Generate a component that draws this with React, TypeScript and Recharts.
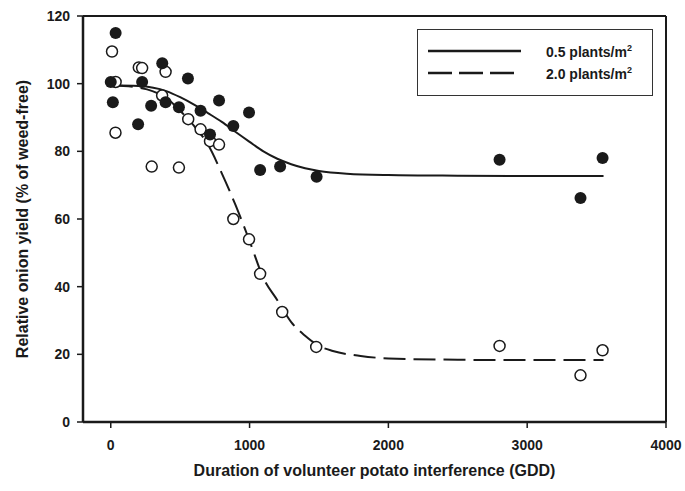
import {
  ComposedChart,
  Line,
  Scatter,
  XAxis,
  YAxis,
  Label,
  Legend,
  ReferenceLine,
} from "recharts";

// observed yield, 0.5 plants/m2 (filled circles)
const lowGdd = [0, 15, 35, 197, 226, 291, 371, 395, 491, 556, 647, 715, 780, 883, 996, 1076, 1220, 1483, 2801, 3384, 3543];
const lowYield = [100.5, 94.5, 115, 88, 100.5, 93.5, 106, 94.5, 93, 101.5, 92, 85, 95, 87.5, 91.5, 74.5, 75.5, 72.5, 77.5, 66.2, 78];

// observed yield, 2.0 plants/m2 (open circles)
const highGdd = [9, 35, 34, 202, 226, 295, 370, 395, 491, 558, 647, 715, 780, 883, 996, 1076, 1235, 1480, 2801, 3384, 3543];
const highYield = [109.5, 100.5, 85.5, 104.8, 104.6, 75.5, 96.5, 103.5, 75.2, 89.5, 86.5, 83, 82, 60, 54, 43.8, 32.5, 22.2, 22.5, 13.8, 21.2];

// fitted curves
const lowFitGdd = [0, 200, 400, 500, 600, 700, 800, 900, 1000, 1100, 1200, 1300, 1400, 1500, 1700, 2000, 2500, 3000, 3550];
const lowFitYield = [99.5, 99.3, 97.8, 96, 93.8, 91.3, 88.7, 85.7, 82.8, 80, 77.8, 76.2, 75, 74.2, 73.4, 73, 72.8, 72.7, 72.7];

const highFitGdd = [0, 200, 300, 400, 500, 600, 700, 800, 900, 1000, 1100, 1200, 1300, 1400, 1500, 1600, 1800, 2000, 2500, 3000, 3550];
const highFitYield = [99.5, 98.8, 97.8, 95.8, 92, 87.5, 82, 73.5, 64, 53.5, 42.5, 36, 29.5, 25.5, 22.5, 21, 19.5, 18.8, 18.4, 18.3, 18.3];

const xTicks = [0, 1000, 2000, 3000, 4000];
const yTicks = [0, 20, 40, 60, 80, 100, 120];

const zip = (xs: number[], ys: number[]) => xs.map((x, i) => ({ x, y: ys[i] }));

const lowPoints = zip(lowGdd, lowYield);
const highPoints = zip(highGdd, highYield);
const lowFit = zip(lowFitGdd, lowFitYield);
const highFit = zip(highFitGdd, highFitYield);

const ink = "#1a1a1a";
const font = "'Liberation Sans', Arial, sans-serif";
const tickStyle = { fill: ink, fontSize: 14, fontWeight: "bold", fontFamily: font };

const FilledDot = (p: any) => <circle cx={p.cx} cy={p.cy} r={6} fill={ink} />;
const OpenDot = (p: any) => (
  <circle cx={p.cx} cy={p.cy} r={5.5} fill="#fff" stroke={ink} strokeWidth={1.5} />
);

function LegendBox() {
  const rows = [
    { label: "0.5 plants/m", dash: undefined },
    { label: "2.0 plants/m", dash: "24 7" },
  ];
  return (
    <div
      style={{
        width: 236,
        height: 67,
        border: "1px solid #333",
        boxSizing: "border-box",
        background: "#fff",
        paddingTop: 10,
        fontFamily: font,
      }}
    >
      {rows.map((r) => (
        <div key={r.label} style={{ display: "flex", alignItems: "center", height: 22 }}>
          <svg width={118} height={10} style={{ marginLeft: 10 }}>
            <line x1={0} x2={93} y1={5} y2={5} stroke={ink} strokeWidth={2.5} strokeDasharray={r.dash} />
          </svg>
          <span style={{ fontSize: 14, fontWeight: "bold", color: ink }}>
            {r.label}
            <sup style={{ fontSize: 9 }}>2</sup>
          </span>
        </div>
      ))}
    </div>
  );
}

export default function App() {
  return (
    <div style={{ position: "fixed", left: 0, top: 0, background: "#fff" }}>
      <ComposedChart width={685} height={491} margin={{ top: 16, right: 19, bottom: 0, left: 0 }}>
        <XAxis
          type="number"
          dataKey="x"
          domain={[-200, 4000]}
          ticks={xTicks}
          allowDataOverflow
          height={69}
          tick={tickStyle}
          tickSize={6}
          tickMargin={12}
          axisLine={{ stroke: ink, strokeWidth: 2.5 }}
          tickLine={{ stroke: ink, strokeWidth: 1.5 }}
        >
          <Label
            value="Duration of volunteer potato interference (GDD)"
            position="insideBottom"
            offset={15}
            style={{ fill: ink, fontSize: 16, fontWeight: "bold", fontFamily: font }}
          />
        </XAxis>
        <YAxis
          type="number"
          dataKey="y"
          domain={[0, 120]}
          ticks={yTicks}
          width={83}
          tick={tickStyle}
          tickSize={6}
          tickMargin={7}
          axisLine={{ stroke: ink, strokeWidth: 2.5 }}
          tickLine={{ stroke: ink, strokeWidth: 1.5 }}
        >
          <Label
            content={() => (
              <text
                x={22}
                y={219}
                transform="rotate(-90 22 219)"
                textAnchor="middle"
                dominantBaseline="central"
                style={{ fill: ink, fontSize: 16, fontWeight: "bold", fontFamily: font }}
              >
                Relative onion yield (% of weed-free)
              </text>
            )}
          />
        </YAxis>
        <ReferenceLine y={120} stroke={ink} strokeWidth={2} ifOverflow="extendDomain" />
        <ReferenceLine x={4000} stroke={ink} strokeWidth={2} />
        <Scatter data={highPoints} shape={OpenDot} isAnimationActive={false} />
        <Line
          data={lowFit}
          dataKey="y"
          type="monotone"
          stroke={ink}
          strokeWidth={2}
          dot={false}
          activeDot={false}
          isAnimationActive={false}
        />
        <Line
          data={highFit}
          dataKey="y"
          type="monotone"
          stroke={ink}
          strokeWidth={2}
          strokeDasharray="22 8"
          dot={false}
          activeDot={false}
          isAnimationActive={false}
        />
        <Scatter data={lowPoints} shape={FilledDot} isAnimationActive={false} />
        <Legend
          layout="vertical"
          align="center"
          verticalAlign="middle"
          content={() => <LegendBox />}
          wrapperStyle={{ position: "absolute", left: 417, top: 29, width: 236, height: 67 }}
        />
      </ComposedChart>
    </div>
  );
}
